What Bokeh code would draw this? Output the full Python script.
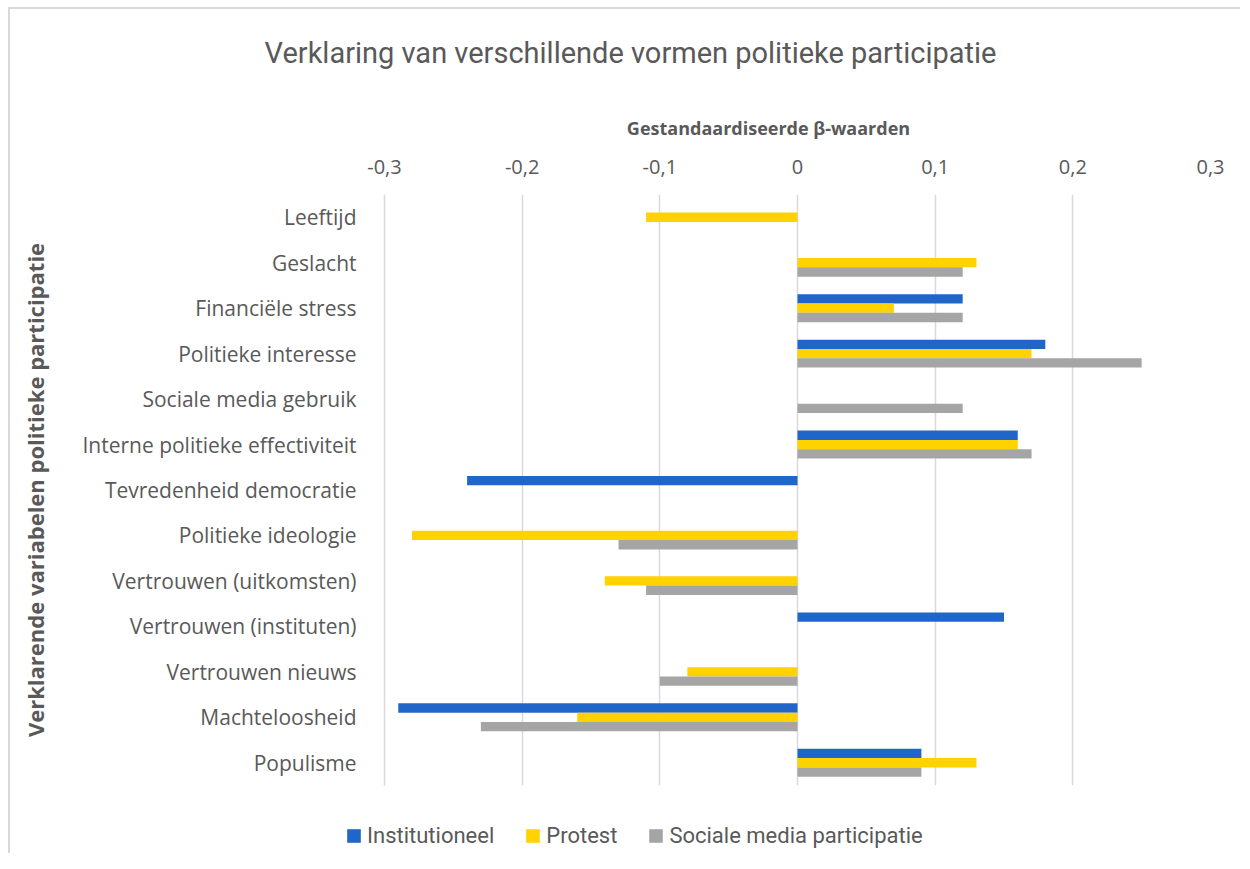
from bokeh.plotting import figure
from bokeh.layouts import column, row
from bokeh.models import (ColumnDataSource, FactorRange, FixedTicker, Legend,
                          LegendItem, Range1d, Label)
from bokeh.transform import dodge
from bokeh.embed import file_html
from bokeh.resources import INLINE

# ---------------- data ----------------
categories = [
    "Leeftijd", "Geslacht", "Financiële stress", "Politieke interesse",
    "Sociale media gebruik", "Interne politieke effectiviteit",
    "Tevredenheid democratie", "Politieke ideologie", "Vertrouwen (uitkomsten)",
    "Vertrouwen (instituten)", "Vertrouwen nieuws", "Machteloosheid", "Populisme",
]
institutioneel = [0, 0, 0.12, 0.18, 0, 0.16, -0.24, 0, 0, 0.15, 0, -0.29, 0.09]
protest = [-0.11, 0.13, 0.07, 0.17, 0, 0.16, 0, -0.28, -0.14, 0, -0.08, -0.16, 0.13]
sociale_media = [0, 0.12, 0.12, 0.25, 0.12, 0.17, 0, -0.13, -0.11, 0, -0.10, -0.23, 0.09]
series_names = ["Institutioneel", "Protest", "Sociale media participatie"]
x_ticks = [-0.3, -0.2, -0.1, 0, 0.1, 0.2, 0.3]
x_tick_labels = ["-0,3", "-0,2", "-0,1", "0", "0,1", "0,2", "0,3"]

title_text = "Verklaring van verschillende vormen politieke participatie"
x_title = "Gestandaardiseerde β-waarden"
y_title = "Verklarende variabelen politieke participatie"

# ---------------- style / layout ----------------
colors = ["#2066C8", "#FFD200", "#A5A5A5"]
text_color = "#595959"
grid_color = "#D9D9D9"
OX, OY = 10, 9            # where the children start on the page (margin + border)
W = 1230
HEAD_H, MAIN_H, LEG_H = 136, 660, 48
ML, MR, MT, MB = 384 - OX, W - (1210 - OX), 194 - OY - HEAD_H, 20


def blank(h):
    f = figure(width=W, height=h, output_backend="svg", toolbar_location=None,
               x_axis_type=None, y_axis_type=None, x_range=Range1d(0, 1),
               y_range=Range1d(0, 1), min_border=0, min_border_left=0,
               min_border_right=0, min_border_top=0, min_border_bottom=0)
    f.outline_line_color = None
    f.border_fill_color = "white"
    f.background_fill_color = "white"
    return f


# ---------------- header: chart title + x-axis title ----------------
head = blank(HEAD_H)
head.add_layout(Label(x=630 - OX, y=HEAD_H - (52 - OY), x_units="screen", y_units="screen",
                      text=title_text, text_font="Roboto", text_font_size="29px",
                      text_color=text_color, text_align="center", text_baseline="middle"))
head.add_layout(Label(x=768 - OX, y=HEAD_H - (127 - OY), x_units="screen", y_units="screen",
                      text=x_title, text_font="Open Sans", text_font_style="bold",
                      text_font_size="18px", text_color=text_color,
                      text_align="center", text_baseline="middle"))

# ---------------- main chart ----------------
source = ColumnDataSource(dict(cat=categories, inst=institutioneel,
                               prot=protest, soc=sociale_media))

p = figure(width=W, height=MAIN_H, output_backend="svg", toolbar_location=None,
           y_range=FactorRange(*reversed(categories)), x_range=Range1d(-0.3, 0.3),
           x_axis_location="above", min_border_left=ML, min_border_right=MR,
           min_border_top=MT, min_border_bottom=MB)
p.outline_line_color = None
p.background_fill_color = "white"
p.border_fill_color = "white"

bh = 0.205
for col, off, c in zip(["inst", "prot", "soc"], [bh, 0, -bh], colors):
    p.hbar(y=dodge("cat", off, range=p.y_range), left=0, right=col, height=bh,
           source=source, fill_color=c, line_color=None)

xa = p.xaxis[0]
xa.ticker = FixedTicker(ticks=x_ticks)
xa.major_label_overrides = dict(zip(x_ticks, x_tick_labels))
xa.axis_line_color = None
xa.major_tick_line_color = None
xa.minor_tick_line_color = None
xa.major_label_text_font = "Open Sans"
xa.major_label_text_font_size = "20px"
xa.major_label_text_color = text_color
xa.major_label_standoff = 15

ya = p.yaxis[0]
ya.axis_line_color = grid_color
ya.axis_line_width = 1.5
ya.major_tick_line_color = None
ya.minor_tick_line_color = None
ya.major_label_text_font = "Open Sans"
ya.major_label_text_font_size = "21px"
ya.major_label_text_color = text_color
ya.major_label_standoff = 22
ya.axis_label = y_title
ya.axis_label_text_font = "Open Sans"
ya.axis_label_text_font_style = "bold"
ya.axis_label_text_font_size = "22px"
ya.axis_label_text_color = text_color
ya.axis_label_standoff = 29

p.xgrid.grid_line_color = grid_color
p.xgrid.grid_line_width = 1.5
p.xgrid.ticker = FixedTicker(ticks=x_ticks)
p.ygrid.grid_line_color = None

# ---------------- legend strip ----------------
leg = blank(LEG_H)
# off-range proxy boxes that only feed the legend swatches
dummies = [leg.quad(left=[-5], right=[-4], bottom=[-5], top=[-4], fill_color=c,
                    line_color=None) for c in colors]
legend = Legend(items=[LegendItem(label=n, renderers=[r]) for n, r in zip(series_names, dummies)],
                orientation="horizontal", location=(345 - OX, 5),
                padding=0, margin=0, spacing=30, label_standoff=5,
                glyph_width=17, glyph_height=17, border_line_color=None,
                background_fill_alpha=0, label_text_font="Roboto",
                label_text_font_size="22px", label_text_color=text_color)
leg.add_layout(legend, "center")

layout = column(row(head), row(p), row(leg), spacing=0, margin=(7, 0, 0, 8),
                styles={"border-top": "2px solid #D9D9D9", "border-left": "2px solid #D9D9D9"})
open("out.html", "w").write(file_html(layout, INLINE))
